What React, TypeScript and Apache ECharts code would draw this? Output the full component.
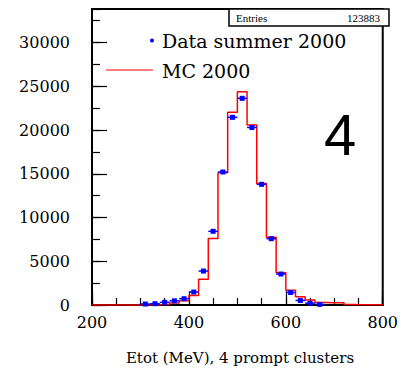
import React, { useEffect, useRef } from "react";
import * as echarts from "echarts";

// Histogram: MC 2000, 20 MeV bins from 200 to 800 MeV
const BIN_START = 200;
const BIN_WIDTH = 20;
const mcCounts = [
  0, 0, 0, 0, 0, 10, 20, 60, 240, 480,
  1080, 2930, 7600, 15120, 22020, 24380, 20570, 13900, 7730, 3700,
  1680, 950, 570, 280, 260, 250, 60, 40, 30, 20,
];

// Data summer 2000 (bin centres and counts)
const dataCenters = [310, 330, 350, 370, 390, 410, 430, 450, 470, 490, 510, 530, 550, 570, 590, 610, 630, 650, 670];
const dataCounts = [110, 150, 300, 480, 720, 1480, 3880, 8420, 15200, 21450, 23620, 20290, 13790, 7580, 3540, 1430, 520, 210, 70];

const xTickLabels = [200, 400, 600, 800];
const yTickLabels = [0, 5000, 10000, 15000, 20000, 25000, 30000];
const X_MIN = 200;
const X_MAX = 800;
const Y_MAX = 33830;
const ENTRIES = "123883";

const SERIF = "DejaVu Serif";

export default function App() {
  const ref = useRef<HTMLDivElement>(null);
  useEffect(() => {
    if (!ref.current) return;
    const chart = echarts.init(ref.current, undefined, { renderer: "svg" });

    const mcPoints: number[][] = mcCounts.map((v, i) => [BIN_START + i * BIN_WIDTH, v]);
    mcPoints.push([BIN_START + mcCounts.length * BIN_WIDTH, mcCounts[mcCounts.length - 1]]);
    const dataPoints = dataCenters.map((c, i) => [c, dataCounts[i]]);

    const tickStyle = { color: "#000", width: 1.2 };
    const option: any = {
      animation: false,
      grid: {
        left: 92,
        right: 12,
        top: 9,
        bottom: 66,
        show: true,
        borderColor: "#000",
        borderWidth: 2,
      },
      xAxis: [
        {
          type: "value",
          min: X_MIN,
          max: X_MAX,
          interval: 200,
          axisLine: { show: true, lineStyle: { color: "#000", width: 2 } },
          axisTick: { show: true, inside: true, length: 14, lineStyle: tickStyle },
          axisLabel: {
            margin: 9,
            fontFamily: SERIF,
            fontSize: 16,
            color: "#000",
            formatter: (v: number) => (xTickLabels.includes(v) ? String(v) : ""),
          },
          splitLine: { show: false },
        },
        {
          type: "value",
          min: X_MIN,
          max: X_MAX,
          interval: 50,
          position: "bottom",
          axisLine: { show: false },
          axisTick: { show: true, inside: true, length: 7, lineStyle: tickStyle },
          axisLabel: { show: false },
          splitLine: { show: false },
        },
      ],
      yAxis: [
        {
          type: "value",
          min: 0,
          max: Y_MAX,
          interval: 5000,
          position: "left",
          axisLine: { show: true, lineStyle: { color: "#000", width: 2 } },
          axisTick: { show: true, inside: true, length: 15, lineStyle: tickStyle },
          axisLabel: {
            margin: 22,
            fontFamily: SERIF,
            fontSize: 16,
            color: "#000",
            showMaxLabel: false,
            formatter: (v: number) => (yTickLabels.includes(v) ? String(v) : ""),
          },
          splitLine: { show: false },
        },
        {
          type: "value",
          min: 0,
          max: Y_MAX,
          interval: 2500,
          position: "left",
          axisLine: { show: false },
          axisTick: { show: true, inside: true, length: 8, lineStyle: tickStyle },
          axisLabel: { show: false },
          splitLine: { show: false },
        },
      ],
      series: [
        {
          type: "line",
          name: "MC 2000",
          xAxisIndex: 0,
          yAxisIndex: 0,
          step: "end",
          data: mcPoints,
          symbol: "none",
          lineStyle: { color: "#ff0000", width: 1.5 },
          z: 3,
        },
        {
          type: "custom",
          name: "Data summer 2000",
          xAxisIndex: 0,
          yAxisIndex: 0,
          data: dataPoints,
          encode: { x: 0, y: 1 },
          z: 4,
          renderItem: (params: any, api: any) => {
            const x = api.value(0);
            const y = api.value(1);
            const p1 = api.coord([x - BIN_WIDTH / 2, y]);
            const p2 = api.coord([x + BIN_WIDTH / 2, y]);
            const c = api.coord([x, y]);
            return {
              type: "group",
              children: [
                {
                  type: "line",
                  shape: { x1: p1[0], y1: p1[1], x2: p2[0], y2: p2[1] },
                  style: { stroke: "#0000ff", lineWidth: 1.5 },
                },
                {
                  type: "rect",
                  shape: { x: c[0] - 2.5, y: c[1] - 2.5, width: 5, height: 5 },
                  style: { fill: "#0000ff" },
                },
              ],
            };
          },
        },
      ],
      graphic: [
        {
          type: "rect",
          shape: { x: 229, y: 9, width: 160, height: 17 },
          style: { fill: "#fff", stroke: "#000", lineWidth: 1.5 },
          z: 10,
        },
        {
          type: "text",
          x: 236,
          y: 17.5,
          style: { text: "Entries", font: "11px 'Liberation Serif'", fill: "#000", textVerticalAlign: "middle" },
          z: 11,
        },
        {
          type: "text",
          x: 380,
          y: 17.5,
          style: { text: ENTRIES, font: "11px 'Liberation Serif'", fill: "#000", textAlign: "right", textVerticalAlign: "middle" },
          z: 11,
        },
        {
          type: "circle",
          shape: { cx: 152, cy: 40.5, r: 2 },
          style: { fill: "#0000ff" },
          z: 10,
        },
        {
          type: "text",
          x: 162,
          y: 41,
          style: { text: "Data summer 2000", font: `19px '${SERIF}'`, fill: "#000", textVerticalAlign: "middle" },
          z: 10,
        },
        {
          type: "line",
          shape: { x1: 106, y1: 70, x2: 153, y2: 70 },
          style: { stroke: "#ff0000", lineWidth: 1.2 },
          z: 10,
        },
        {
          type: "text",
          x: 162,
          y: 70.5,
          style: { text: "MC 2000", font: `19px '${SERIF}'`, fill: "#000", textVerticalAlign: "middle" },
          z: 10,
        },
        {
          type: "text",
          x: 340,
          y: 134,
          style: { text: "4", font: "58px 'Liberation Sans'", fill: "#000", textAlign: "center", textVerticalAlign: "middle" },
          z: 10,
        },
        {
          type: "text",
          x: 240,
          y: 358,
          style: { text: "Etot (MeV), 4 prompt clusters", font: `15px '${SERIF}'`, fill: "#000", textAlign: "center", textVerticalAlign: "middle" },
          z: 10,
        },
      ],
    };
    chart.setOption(option);
    return () => chart.dispose();
  }, []);

  return (
    <div
      ref={ref}
      style={{ position: "fixed", left: 0, top: 0, width: 401, height: 371, background: "#fff" }}
    />
  );
}
